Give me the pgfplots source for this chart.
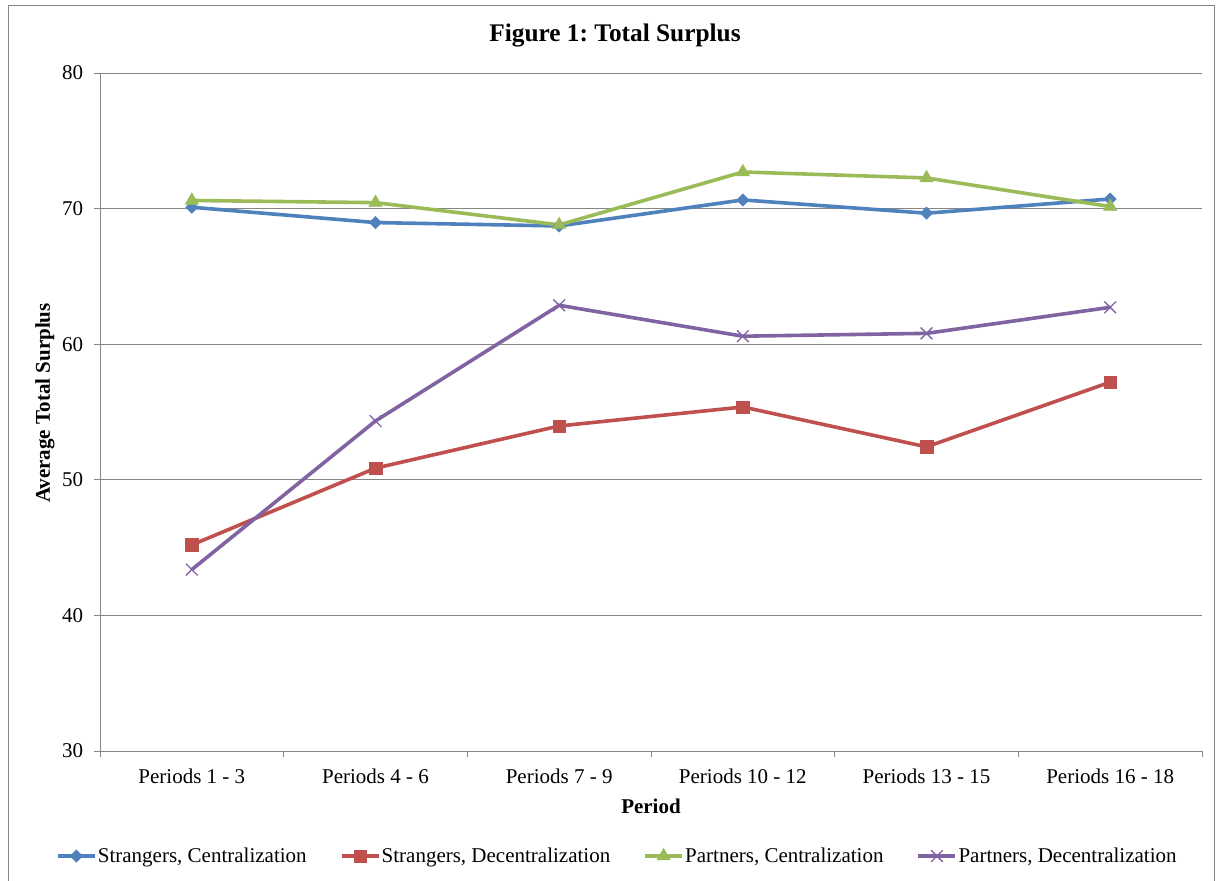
\documentclass[border=0pt]{standalone}
\usepackage{fontspec}
\setmainfont{Liberation Serif}
\usepackage{pgfplots}
\pgfplotsset{compat=1.18}

\definecolor{scblue}{HTML}{4F81BD}
\definecolor{sdred}{HTML}{C0504D}
\definecolor{pcgreen}{HTML}{9BBB59}
\definecolor{pdpurple}{HTML}{8064A2}
\definecolor{axgray}{HTML}{868686}

\begin{document}
\frenchspacing
\begin{tikzpicture}[x=1pt,y=1pt]
\useasboundingbox (0,0) rectangle (915,-660.75);
% chart frame
\draw[axgray, line width=0.75pt] (6,-4.5) rectangle (910.5,-700);

\begin{axis}[
  at={(75pt,-54.75pt)}, anchor=north west,
  scale only axis, width=826.5pt, height=508.5pt,
  clip=false,
  xmin=-0.5, xmax=5.5, ymin=30, ymax=80,
  ytick={30,40,...,80},
  xtick={-0.5,0.5,...,5.5}, xticklabels={},
  extra x ticks={0,1,2,3,4,5},
  extra x tick labels={Periods 1 - 3, Periods 4 - 6, Periods 7 - 9, Periods 10 - 12, Periods 13 - 15, Periods 16 - 18},
  extra x tick style={major tick length=0pt, xticklabel style={anchor=base, yshift=-24.5pt}},
  axis lines*=left,
  axis line style={-, axgray, line width=0.75pt},
  tick align=outside, major tick length=4.5pt,
  tick style={axgray, line width=0.75pt},
  ymajorgrids, grid style={axgray, line width=0.75pt},
  ticklabel style={font=\fontsize{15.75}{18}\selectfont},
  yticklabel style={inner sep=0pt, xshift=-8pt},
  /pgf/number format/assume math mode=true,
  legend columns=4,
  legend style={at={(0.4691,-0.1549)}, anchor=center, draw=none, fill=none,
    font=\fontsize{15.75}{18}\selectfont,
    nodes={inner sep=1pt},
    /tikz/every even column/.append style={column sep=23.8pt}},
  legend image code/.code={
    \draw[mark repeat=2, mark phase=2] plot coordinates {(0pt,0pt) (13.9pt,0pt) (27.75pt,0pt)};
  },
]
\addplot[scblue, line width=2.7pt, mark=square*, mark size=3.3pt,
  mark options={solid, line width=0.3pt, rotate=45}]
  coordinates {(0,70.10) (1,68.97) (2,68.72) (3,70.64) (4,69.66) (5,70.71)};
\addlegendentry{Strangers, Centralization}
\addplot[sdred, line width=2.7pt, mark=square*, mark size=4.7pt,
  mark options={solid, line width=0.3pt}]
  coordinates {(0,45.20) (1,50.86) (2,53.97) (3,55.37) (4,52.43) (5,57.20)};
\addlegendentry{Strangers, Decentralization}
\addplot[pcgreen, line width=2.7pt, mark=triangle*, mark size=5.8pt,
  mark options={solid, line width=0.3pt}]
  coordinates {(0,70.60) (1,70.44) (2,68.80) (3,72.70) (4,72.26) (5,70.15)};
\addlegendentry{Partners, Centralization}
\addplot[pdpurple, line width=2.7pt, mark=x, mark size=6.2pt,
  mark options={solid, line width=1pt}]
  coordinates {(0,43.38) (1,54.34) (2,62.87) (3,60.59) (4,60.80) (5,62.72)};
\addlegendentry{Partners, Decentralization}
\end{axis}

\node[font=\fontsize{19}{22}\selectfont\bfseries] at (461.25,-27) {Figure 1: Total Surplus};
\node[font=\fontsize{15.75}{18}\selectfont\bfseries] at (488.25,-604.5) {Period};
\node[font=\fontsize{15.75}{18}\selectfont\bfseries, rotate=90] at (33.75,-302.25) {Average Total Surplus};
\end{tikzpicture}
\end{document}
